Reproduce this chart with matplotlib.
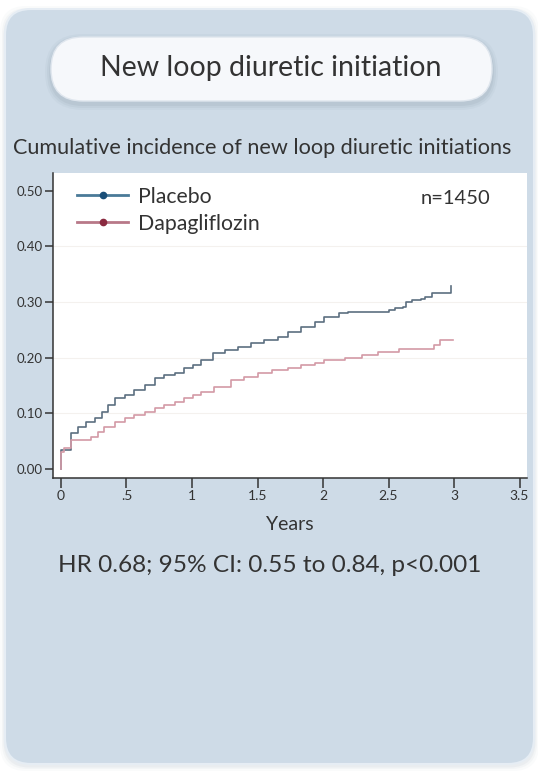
import matplotlib
matplotlib.use("Agg")
import matplotlib.pyplot as plt
from matplotlib.patches import FancyBboxPatch
from matplotlib.lines import Line2D

plt.rcParams["font.family"] = ["Lato", "DejaVu Sans"]

# Kaplan-Meier style cumulative incidence (years, proportion)
placebo_t = [0, 0, 0.08, 0.13, 0.19, 0.26, 0.31, 0.36, 0.41, 0.49, 0.56, 0.64, 0.72, 0.79, 0.87, 0.94,
             1.01, 1.07, 1.16, 1.25, 1.35, 1.45, 1.55, 1.66, 1.73, 1.83, 1.94, 2.01, 2.12, 2.19, 2.50,
             2.55, 2.61, 2.63, 2.68, 2.75, 2.78, 2.83, 2.98]
placebo_v = [0, 0.034, 0.064, 0.076, 0.085, 0.091, 0.103, 0.115, 0.127, 0.133, 0.142, 0.151, 0.163,
             0.169, 0.173, 0.181, 0.187, 0.196, 0.208, 0.214, 0.220, 0.226, 0.232, 0.238, 0.247, 0.256,
             0.265, 0.274, 0.280, 0.283, 0.286, 0.289, 0.292, 0.301, 0.304, 0.305, 0.310, 0.316, 0.328]
dapa_t = [0, 0, 0.02, 0.08, 0.23, 0.28, 0.33, 0.41, 0.49, 0.56, 0.64, 0.72, 0.79, 0.87, 0.94, 1.01,
          1.07, 1.17, 1.30, 1.40, 1.50, 1.61, 1.73, 1.83, 1.94, 2.01, 2.17, 2.30, 2.42, 2.58, 2.85,
          2.89, 2.99]
dapa_v = [0, 0.031, 0.038, 0.052, 0.058, 0.067, 0.076, 0.085, 0.091, 0.097, 0.103, 0.109, 0.115,
          0.121, 0.127, 0.133, 0.139, 0.148, 0.160, 0.166, 0.172, 0.178, 0.181, 0.187, 0.190, 0.196,
          0.199, 0.205, 0.211, 0.215, 0.223, 0.231, 0.231]

y_ticks = [0.0, 0.1, 0.2, 0.3, 0.4, 0.5]
y_ticklabels = ["0.00", "0.10", "0.20", "0.30", "0.40", "0.50"]
x_ticks = [0, 0.5, 1, 1.5, 2, 2.5, 3, 3.5]
x_ticklabels = ["0", ".5", "1", "1.5", "2", "2.5", "3", "3.5"]

title = "New loop diuretic initiation"
subtitle = "Cumulative incidence of new loop diuretic initiations"
hr_text = "HR 0.68; 95% CI: 0.55 to 0.84, p<0.001"
n_text = "n=1450"

W, H = 538, 772
TXT = "#333333"
fig = plt.figure(figsize=(W / 100, H / 100), dpi=100)
fig.patch.set_facecolor("white")

# background layer in pixel coordinates
bg = fig.add_axes([0, 0, 1, 1], zorder=0)
bg.set_xlim(0, W); bg.set_ylim(H, 0); bg.axis("off")

for k, a in [(5, 0.04), (3, 0.06), (1.5, 0.08)]:
    bg.add_patch(FancyBboxPatch((5 - k, 9 - k + 2), 529 + 2 * k, 755 + 2 * k,
                                boxstyle="round,pad=0,rounding_size=26", fc="#8a9aae", ec="none", alpha=a))
bg.add_patch(FancyBboxPatch((5, 9), 529, 755, boxstyle="round,pad=0,rounding_size=26",
                            fc="#cedbe7", ec="#e6edf4", lw=1.5))

# title pill with soft shadow
for k, a in [(6, 0.05), (4, 0.07), (2, 0.09)]:
    bg.add_patch(FancyBboxPatch((51 - k, 37 - k + 3), 441 + 2 * k, 64 + 2 * k,
                                boxstyle="round,pad=0,rounding_size=%d" % (32 + k), fc="#6a7a8c", ec="none", alpha=a))
bg.add_patch(FancyBboxPatch((51, 37), 441, 64, boxstyle="round,pad=0,rounding_size=32",
                            fc="#f6f8fb", ec="#dfe6ee", lw=1))
bg.text(271, 68, title, ha="center", va="center", fontsize=20.5, color=TXT)
bg.text(262, 148, subtitle, ha="center", va="center", fontsize=15.6, color=TXT)
bg.text(290, 524, "Years", ha="center", va="center", fontsize=14, color=TXT)
bg.text(270, 566, hr_text, ha="center", va="center", fontsize=17.6, color=TXT)

# the KM plot
ax = fig.add_axes([53 / W, 1 - 478 / H, (527 - 53) / W, (478 - 173) / H], zorder=1)
ax.set_facecolor("white")
ax.step(placebo_t, placebo_v, where="post", color="#5c6f80", lw=1.2)
ax.step(dapa_t, dapa_v, where="post", color="#d39aa6", lw=1.2)
for y in y_ticks[1:-1]:
    ax.axhline(y, color="#f4f1ee", lw=0.8, zorder=0)

ax.set_xlim(-0.061, 3.557); ax.set_ylim(-0.0162, 0.532)
ax.set_xticks(x_ticks); ax.set_xticklabels(x_ticklabels)
ax.set_yticks(y_ticks); ax.set_yticklabels(y_ticklabels)
ax.tick_params(axis="x", direction="out", length=7, width=1.1, colors="#333333", labelsize=10, pad=2)
ax.tick_params(axis="y", direction="out", length=6, width=1.1, colors="#333333", labelsize=9.5, pad=1.5)
for s in ["top", "right"]:
    ax.spines[s].set_visible(False)
for s in ["left", "bottom"]:
    ax.spines[s].set_color("#333333"); ax.spines[s].set_linewidth(1.1)

handles = [Line2D([], [], color="#4a7a98", lw=2, marker="o", ms=4.5, mfc="#1a4f78", mec="#1a4f78"),
           Line2D([], [], color="#b87888", lw=2, marker="o", ms=4.5, mfc="#8a2a40", mec="#8a2a40")]
ax.legend(handles, ["Placebo", "Dapagliflozin"], loc="upper left", bbox_to_anchor=(0.051, 0.955),
          frameon=False, fontsize=15.3, handlelength=2.4, handletextpad=0.45, labelspacing=0.32,
          labelcolor=TXT, borderaxespad=0, borderpad=0)
ax.text(0.922, 0.918, n_text, transform=ax.transAxes, ha="right", va="center", fontsize=14.5, color=TXT)

fig.savefig("out.png", dpi=100)
